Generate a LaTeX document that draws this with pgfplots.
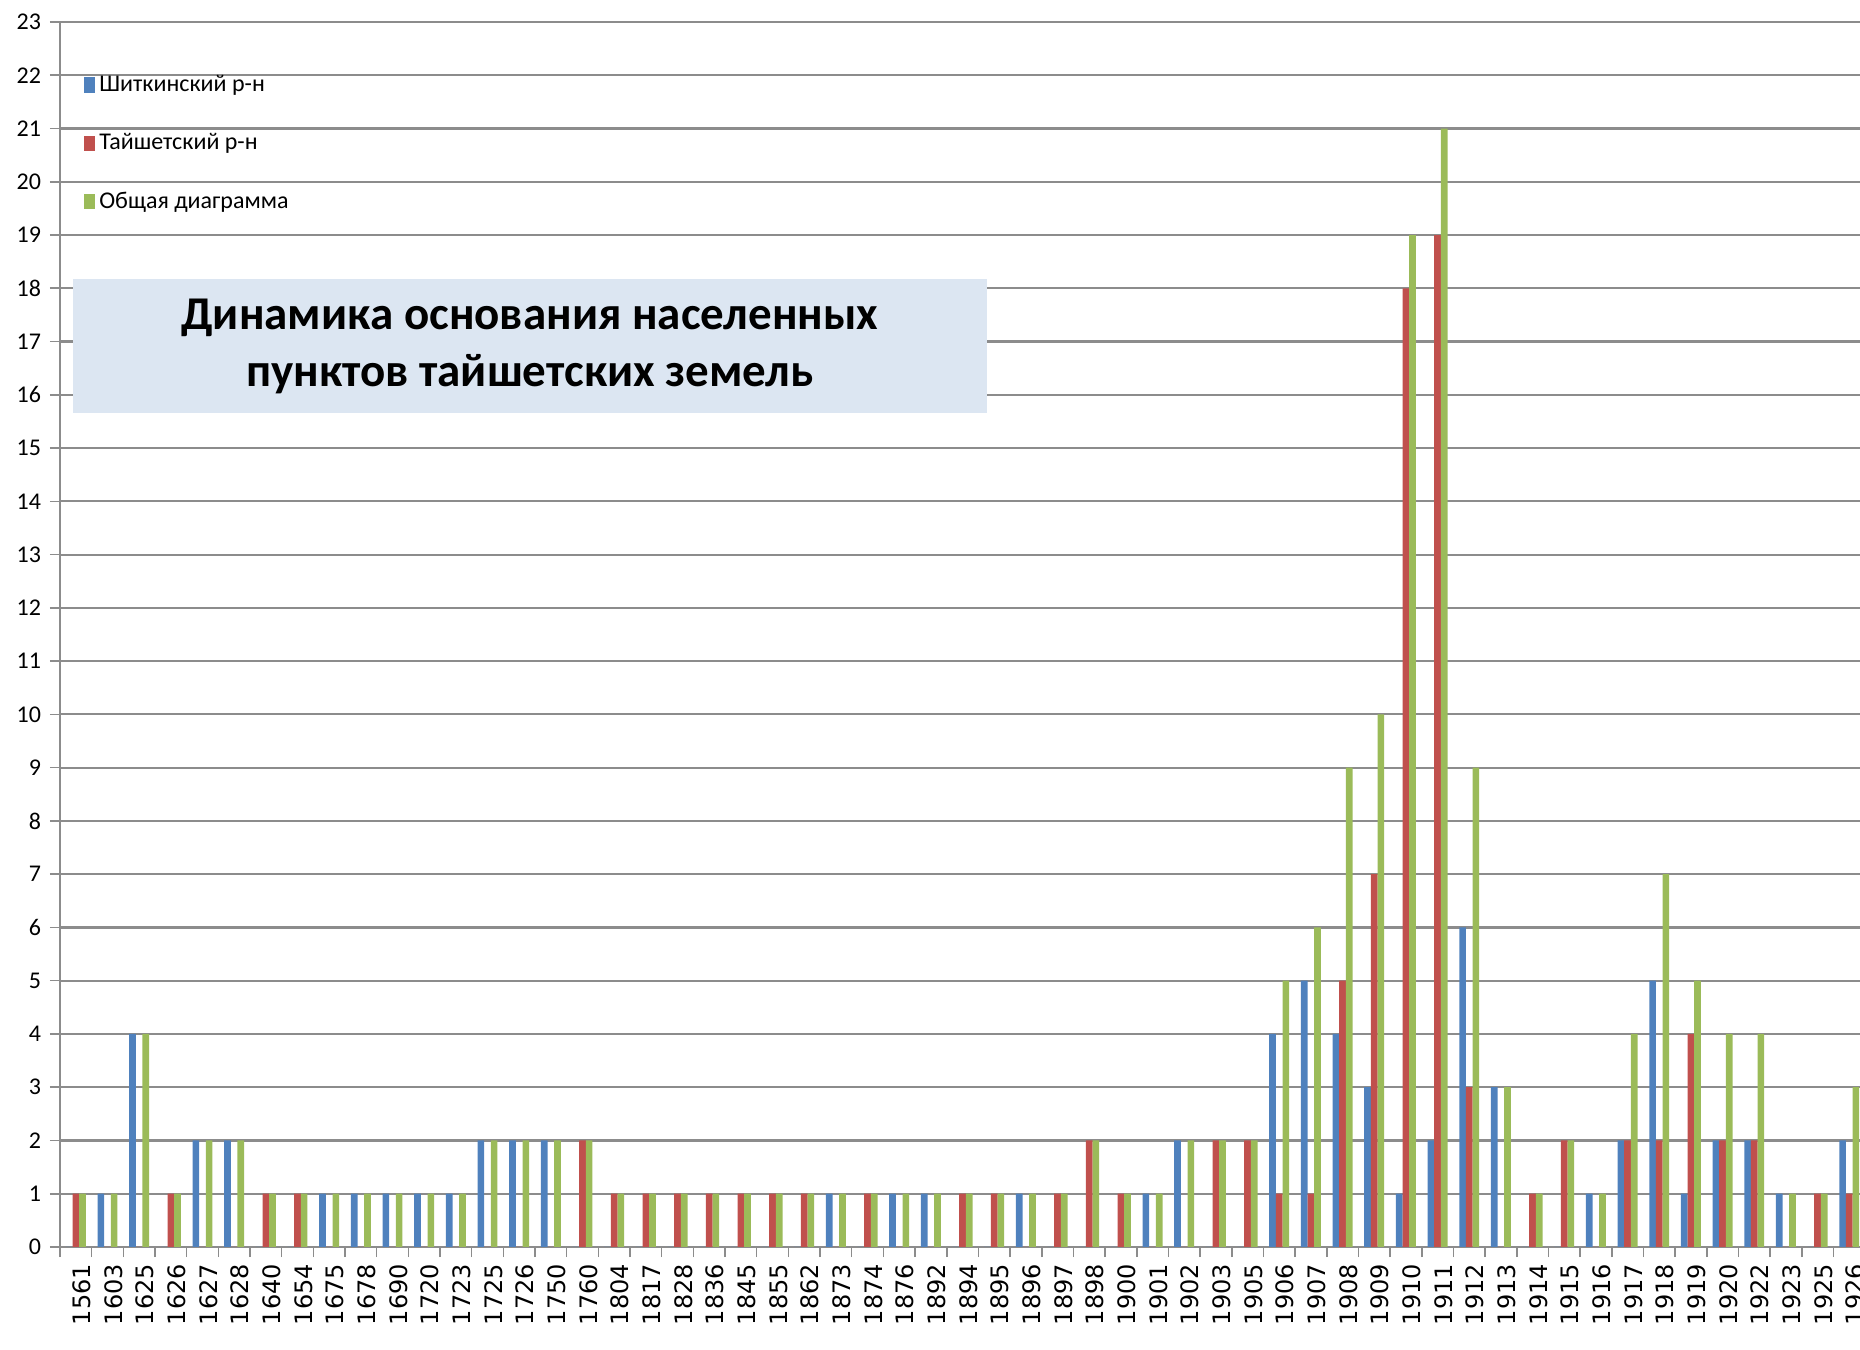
\documentclass[border=0pt]{standalone}
\usepackage{fontspec}
\setmainfont{Carlito}
\newfontfamily\dejavu{DejaVu Sans}
\usepackage{pgfplots}
\usepackage{pgfplotstable}
\pgfplotsset{compat=1.18}

\definecolor{shitk}{HTML}{4F81BD}
\definecolor{taish}{HTML}{C0504D}
\definecolor{obsh}{HTML}{9BBB59}
\definecolor{gridgray}{HTML}{8C8C8C}
\definecolor{titlebox}{HTML}{DCE6F2}

% idx  blue(Шиткинский)  red(Тайшетский)  green(общая)
\pgfplotstableread{
idx b r g
0  0 1 1
1  1 0 1
2  4 0 4
3  0 1 1
4  2 0 2
5  2 0 2
6  0 1 1
7  0 1 1
8  1 0 1
9  1 0 1
10 1 0 1
11 1 0 1
12 1 0 1
13 2 0 2
14 2 0 2
15 2 0 2
16 0 2 2
17 0 1 1
18 0 1 1
19 0 1 1
20 0 1 1
21 0 1 1
22 0 1 1
23 0 1 1
24 1 0 1
25 0 1 1
26 1 0 1
27 1 0 1
28 0 1 1
29 0 1 1
30 1 0 1
31 0 1 1
32 0 2 2
33 0 1 1
34 1 0 1
35 2 0 2
36 0 2 2
37 0 2 2
38 4 1 5
39 5 1 6
40 4 5 9
41 3 7 10
42 1 18 19
43 2 19 21
44 6 3 9
45 3 0 3
46 0 1 1
47 0 2 2
48 1 0 1
49 2 2 4
50 5 2 7
51 1 4 5
52 2 2 4
53 2 2 4
54 1 0 1
55 0 1 1
56 2 1 3
}\dataset

\begin{document}
\begin{tikzpicture}
\begin{axis}[
    at={(0,0)}, anchor=south west,
    scale only axis,
    width=900pt, height=612.5pt,
    ybar=0pt,
    bar width=0.21,
    xmin=-0.5, xmax=56.34,
    ymin=0, ymax=23,
    ytick distance=1,
    axis lines*=left,
    axis line style={draw=gridgray, line width=1pt},
    ymajorgrids=true,
    grid style={draw=gridgray, line width=1.1pt},
    tick align=outside,
    major tick length=5pt,
    tick style={draw=gridgray, line width=0.8pt},
    /pgf/number format/assume math mode=true,
    yticklabel style={font=\fontsize{12}{14}\selectfont, xshift=-1pt},
    xtick={-0.5,0.5,...,55.5},
    xticklabels={},
    extra x ticks={0,1,...,56},
    extra x tick labels={1561,1603,1625,1626,1627,1628,1640,1654,1675,1678,1690,1720,1723,1725,1726,1750,1760,1804,1817,1828,1836,1845,1855,1862,1873,1874,1876,1892,1894,1895,1896,1897,1898,1900,1901,1902,1903,1905,1906,1907,1908,1909,1910,1911,1912,1913,1914,1915,1916,1917,1918,1919,1920,1922,1923,1925,1926},
    extra x tick style={
        tick style={draw=none},
        xticklabel style={rotate=90, anchor=east, font=\dejavu\fontsize{12}{14}\selectfont, yshift=-3pt},
    },
    legend cell align=left,
    legend image code/.code={\fill[#1] (0pt,-3.8pt) rectangle (5.5pt,3.8pt);},
    legend style={
        at={(0.0133,0.960)}, anchor=north west,
        draw=none, fill=none, inner sep=0pt,
        font=\fontsize{12}{14}\selectfont,
        row sep=15.5pt,
        /tikz/every even column/.append style={column sep=0pt},
    },
]
\addplot[fill=shitk, draw=none, bar shift=-0.21] table[x=idx, y=b]{\dataset};
\addlegendentry{Шиткинский р-н}
\addplot[fill=taish, draw=none, bar shift=0] table[x=idx, y=r]{\dataset};
\addlegendentry{Тайшетский р-н}
\addplot[fill=obsh, draw=none, bar shift=0.21] table[x=idx, y=g]{\dataset};
\addlegendentry{Общая диаграмма}

\node[fill=titlebox, minimum width=457pt, minimum height=67pt, align=center,
      font=\bfseries\fontsize{23.5}{28.5}\selectfont, inner sep=0pt]
  at (rel axis cs:0.261,0.7355) {Динамика основания населенных\\пунктов тайшетских земель};
\end{axis}
\pgfresetboundingbox
\useasboundingbox (-30pt,-51.5pt) rectangle (900pt,623.5pt);
\end{tikzpicture}
\end{document}
